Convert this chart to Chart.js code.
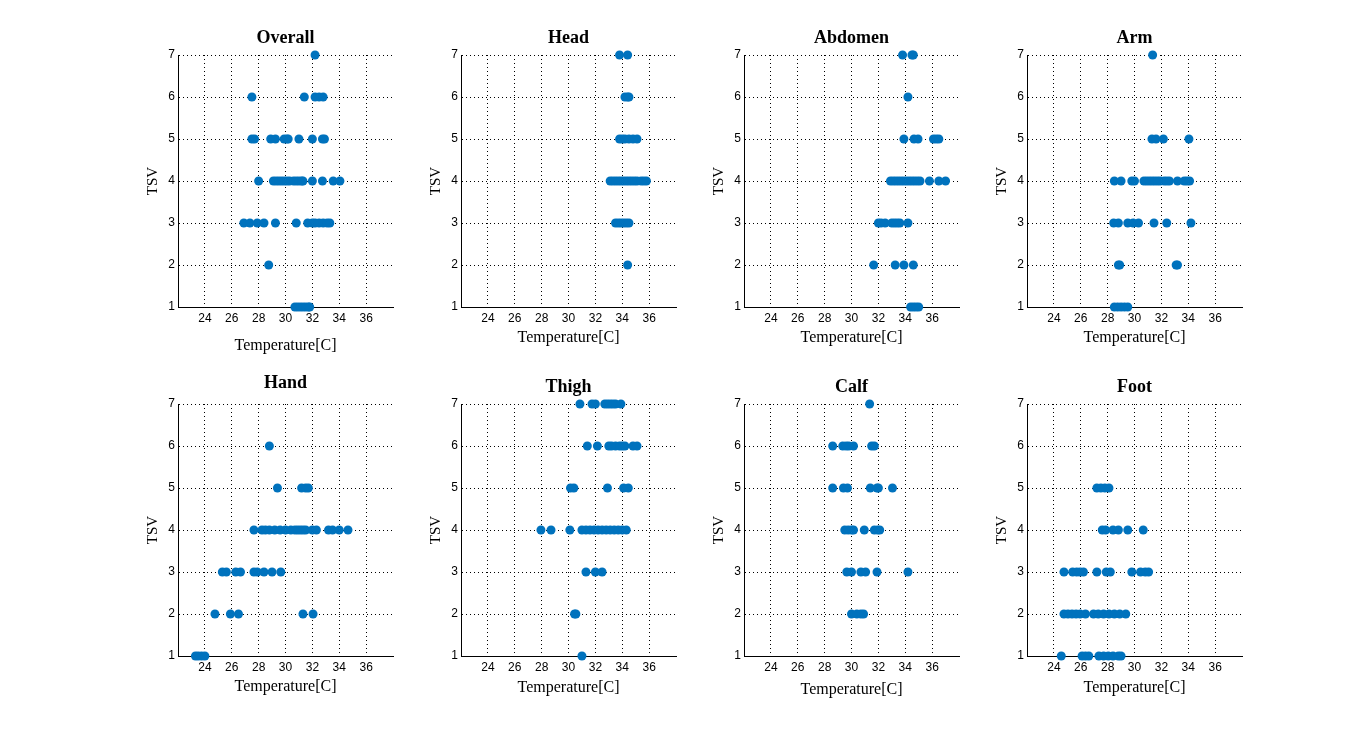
<!DOCTYPE html>
<html>
<head>
<meta charset="utf-8">
<script src="https://cdn.jsdelivr.net/npm/chart.js@4.4.0/dist/chart.umd.min.js"></script>
<style>
  body { margin: 0; background: #fff; }
  #wrap { position: relative; width: 1372px; height: 737px; overflow: hidden; }
  canvas { position: absolute; }
</style>
</head>
<body>
<div id="wrap"></div>
<script>
// Panel titles (body parts)
const panelNames = ['Overall', 'Head', 'Abdomen', 'Arm', 'Hand', 'Thigh', 'Calf', 'Foot'];

// Skin temperature readings, grouped by vote: index 0 -> TSV 1 ... index 6 -> TSV 7
const overall = [
    [30.7, 30.9, 31.1, 31.3, 31.5, 31.7, 31.8],
    [28.75],
    [26.9, 27.35, 27.9, 28.4, 29.25, 30.8, 31.65, 32.0, 32.2, 32.5, 32.8, 33.1, 33.3],
    [28.0, 29.1, 29.3, 29.5, 29.7, 29.9, 30.1, 30.3, 30.6, 30.8, 31.0, 31.2, 31.3, 32.0, 32.75, 33.55, 34.05],
    [27.5, 27.7, 28.9, 29.25, 29.9, 30.1, 30.2, 31.0, 32.0, 32.75, 32.9],
    [27.5, 31.4, 32.2, 32.5, 32.8],
    [32.2]
];
const head = [
    [],
    [34.4],
    [33.5, 33.7, 33.9, 34.1, 34.3, 34.5],
    [33.1, 33.3, 33.5, 33.7, 33.9, 34.1, 34.3, 34.5, 34.7, 34.9, 35.1, 35.4, 35.6, 35.8],
    [33.8, 34.0, 34.2, 34.5, 34.8, 35.1],
    [34.2, 34.4, 34.5],
    [33.8, 34.4]
];
const abdomen = [
    [34.4, 34.6, 34.8, 35.0],
    [31.65, 33.25, 33.9, 34.6],
    [32.0, 32.2, 32.5, 33.0, 33.2, 33.4, 33.6, 34.2],
    [32.9, 33.1, 33.3, 33.5, 33.7, 33.9, 34.1, 34.3, 34.5, 34.7, 34.9, 35.1, 35.8, 36.5, 37.0],
    [33.9, 34.65, 34.95, 36.1, 36.3, 36.5],
    [34.2],
    [33.8, 34.5, 34.6]
];
const arm = [
    [28.5, 28.75, 29.0, 29.25, 29.5],
    [28.8, 28.9, 33.1, 33.2],
    [28.45, 28.8, 29.5, 29.9, 30.3, 31.45, 32.4, 34.2],
    [28.5, 29.0, 29.8, 30.0, 30.7, 30.9, 31.1, 31.3, 31.5, 31.7, 31.9, 32.2, 32.4, 32.6, 33.2, 33.7, 33.9, 34.1],
    [31.3, 31.6, 32.15, 34.05],
    [],
    [31.35]
];
const hand = [
    [23.3, 23.5, 23.75, 24.0],
    [24.75, 25.9, 26.5, 31.3, 32.05],
    [25.3, 25.6, 26.3, 26.65, 27.65, 27.9, 28.4, 29.0, 29.65],
    [27.65, 28.25, 28.5, 28.8, 29.2, 29.6, 30.0, 30.4, 30.7, 30.9, 31.1, 31.3, 31.5, 32.0, 32.3, 33.2, 33.5, 34.0, 34.65],
    [29.4, 31.2, 31.5, 31.7],
    [28.8],
    []
];
const thigh = [
    [31.0],
    [30.45, 30.55],
    [31.3, 32.0, 32.5],
    [27.95, 28.7, 30.1, 31.0, 31.3, 31.6, 31.9, 32.2, 32.5, 32.8, 33.1, 33.4, 33.7, 34.0, 34.3],
    [30.15, 30.4, 32.9, 34.1, 34.45],
    [31.4, 32.15, 33.0, 33.2, 33.5, 33.8, 34.0, 34.2, 34.8, 35.1],
    [30.85, 31.75, 32.0, 32.7, 32.9, 33.1, 33.3, 33.5, 33.9]
];
const calf = [
    [],
    [30.0, 30.4, 30.7, 30.9],
    [29.65, 30.0, 30.7, 31.05, 31.9, 34.2],
    [29.5, 29.75, 30.0, 30.15, 30.95, 31.7, 31.95, 32.1],
    [28.6, 29.4, 29.7, 31.4, 31.9, 32.0, 33.05],
    [28.6, 29.35, 29.6, 29.8, 30.15, 31.5, 31.7],
    [31.35]
];
const foot = [
    [24.55, 26.1, 26.35, 26.6, 27.35, 27.7, 28.05, 28.4, 28.8, 29.0],
    [24.75, 25.05, 25.35, 25.65, 25.95, 26.35, 26.95, 27.3, 27.7, 28.1, 28.5, 28.9, 29.35],
    [24.75, 25.4, 25.7, 25.95, 26.2, 27.2, 27.9, 28.2, 29.8, 30.45, 30.8, 31.05],
    [27.6, 27.85, 28.4, 28.8, 29.5, 30.65],
    [27.2, 27.5, 27.8, 28.1],
    [],
    []
];
const panelData = [overall, head, abdomen, arm, hand, thigh, calf, foot];

const xTicks = [24, 26, 28, 30, 32, 34, 36];
const yTicks = [1, 2, 3, 4, 5, 6, 7];

// layout of the 2x4 grid (plot-area corners, in page pixels)
const colLeft = [178, 461, 744, 1027];
const rowTop = [55, 404];
const plotW = 215, plotH = 252;
const yAxisW = 38;
const titleGap = [6, 6, 6, 6, 10, 6, 6, 6];
const xLabelGap = [39, 31, 31, 31, 31, 32, 34, 32];

const serif = '"Liberation Serif", "Times New Roman", serif';
const sans = '"Liberation Sans", Arial, sans-serif';

function toPoints(levels) {
    const pts = [];
    levels.forEach((temps, i) => temps.forEach(t => pts.push({ x: t, y: yTicks[i] })));
    return pts;
}

const wrap = document.getElementById('wrap');

panelNames.forEach((name, i) => {
    const col = i % 4, row = Math.floor(i / 4);
    const titleH = 22 + titleGap[i];
    const xAxisH = xLabelGap[i] + 14;
    const canvas = document.createElement('canvas');
    canvas.width = yAxisW + plotW + 6;
    canvas.height = titleH + plotH + xAxisH;
    canvas.style.left = (colLeft[col] - yAxisW) + 'px';
    canvas.style.top = (rowTop[row] - titleH) + 'px';
    wrap.appendChild(canvas);

    new Chart(canvas.getContext('2d'), {
        type: 'scatter',
        data: {
            datasets: [{
                data: toPoints(panelData[i]),
                backgroundColor: '#0072BD',
                borderWidth: 0,
                pointRadius: 4.5,
                pointHoverRadius: 4.5,
                clip: false
            }]
        },
        options: {
            responsive: false,
            animation: false,
            devicePixelRatio: 1,
            layout: { padding: { right: 6 } },
            plugins: {
                legend: { display: false },
                tooltip: { enabled: false },
                title: {
                    display: true,
                    text: name,
                    fullSize: false,
                    color: '#000',
                    font: { family: serif, size: 18, weight: 'bold', lineHeight: '22px' },
                    padding: { top: 0, bottom: titleGap[i] }
                }
            },
            scales: {
                x: {
                    type: 'linear',
                    min: 22,
                    max: 38,
                    afterFit: s => { s.height = xAxisH; },
                    ticks: {
                        stepSize: 2,
                        padding: 4,
                        color: '#000',
                        font: { family: sans, size: 12 },
                        maxRotation: 0,
                        callback: v => xTicks.includes(v) ? String(v) : ''
                    },
                    grid: {
                        drawTicks: false,
                        color: c => (c.tick && xTicks.includes(c.tick.value)) ? '#000' : 'rgba(0,0,0,0)'
                    },
                    border: { display: true, color: '#000', width: 1, dash: [1, 3] },
                    title: {
                        display: true,
                        text: 'Temperature[C]',
                        color: '#000',
                        font: { family: serif, size: 16, lineHeight: '20px' },
                        padding: { top: 0, bottom: 4 }
                    }
                },
                y: {
                    type: 'linear',
                    min: 1,
                    max: 7,
                    afterFit: s => { s.width = yAxisW; },
                    ticks: {
                        stepSize: 1,
                        padding: 3,
                        color: '#000',
                        font: { family: sans, size: 12 },
                        callback: v => yTicks.includes(v) ? String(v) : ''
                    },
                    grid: {
                        drawTicks: false,
                        color: c => (c.tick && c.tick.value > 1) ? '#000' : 'rgba(0,0,0,0)'
                    },
                    border: { display: true, color: '#000', width: 1, dash: [1, 3] },
                    title: {
                        display: true,
                        text: 'TSV',
                        color: '#000',
                        font: { family: serif, size: 15, lineHeight: 1.2 },
                        padding: { top: 4, bottom: 4 }
                    }
                }
            }
        }
    });
});
</script>
</body>
</html>
